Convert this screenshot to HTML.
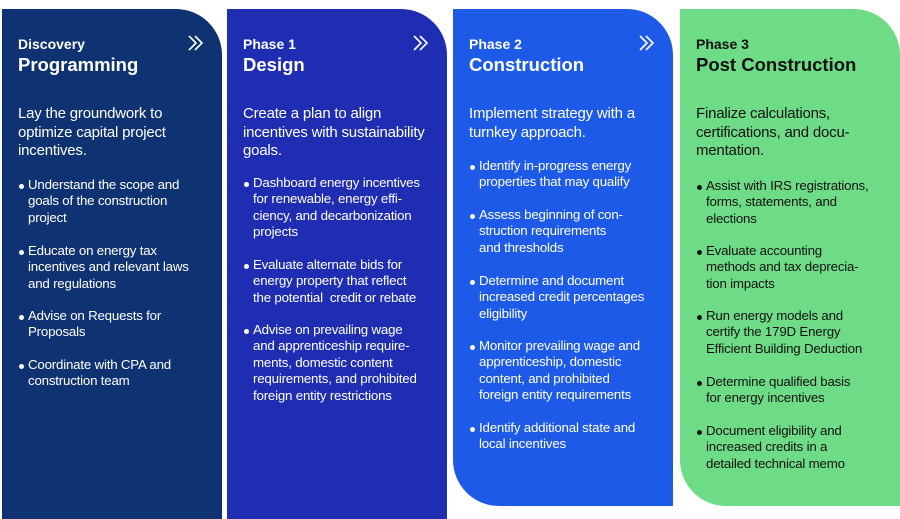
<!DOCTYPE html>
<html><head><meta charset="utf-8"><style>
*{margin:0;padding:0;box-sizing:border-box}
body{width:900px;height:507px;background:#fff;position:relative;overflow:hidden;font-family:"Liberation Sans",sans-serif}
.c{position:absolute;top:9px;width:220px;height:500px;border-radius:0 46px 0 0;color:#fff}
.p{position:absolute;left:16px;font-size:13.3px;line-height:16.4px;letter-spacing:-0.2px}
.b{position:absolute;left:16px;font-size:13.3px;line-height:16.4px;padding-left:10px;letter-spacing:-0.2px}
.b:before{content:"";position:absolute;left:1px;top:7px;width:5px;height:5px;border-radius:50%;background:currentColor}
.t1{position:absolute;left:16px;top:27px;font-size:14px;font-weight:bold}
.t2{position:absolute;left:16px;top:45px;font-size:18.5px;font-weight:bold}
.i{position:absolute;left:16px;top:96px;font-size:15px;line-height:18.5px;letter-spacing:-0.2px}
.ar{position:absolute;left:185px;top:25px}
</style></head><body>
<div class="c" style="left:2px;background:#0f3272;height:510px">
<div class="t1">Discovery</div><div class="t2">Programming</div>
<svg class="ar" width="18" height="18"><path d="M2 2l7 7-7 7M8 2l7 7-7 7" stroke="#fff" stroke-width="1.6" fill="none"/></svg>
<div class="i">Lay the groundwork to<br>optimize capital project<br>incentives.</div>
<div class="b" style="top:168px">Understand the scope and<br>goals of the construction<br>project</div>
<div class="b" style="top:234px">Educate on energy tax<br>incentives and relevant laws<br>and regulations</div>
<div class="b" style="top:299px">Advise on Requests for<br>Proposals</div>
<div class="b" style="top:348px">Coordinate with CPA and<br>construction team</div>
</div>
<div class="c" style="left:227px;background:#1f2db3;height:510px">
<div class="t1">Phase 1</div><div class="t2">Design</div>
<svg class="ar" width="18" height="18"><path d="M2 2l7 7-7 7M8 2l7 7-7 7" stroke="#fff" stroke-width="1.6" fill="none"/></svg>
<div class="i">Create a plan to align<br>incentives with sustainability<br>goals.</div>
<div class="b" style="top:166px">Dashboard energy incentives<br>for renewable, energy effi-<br>ciency, and decarbonization<br>projects</div>
<div class="b" style="top:248px">Evaluate alternate bids for<br>energy property that reflect<br>the potential &nbsp;credit or rebate</div>
<div class="b" style="top:313px">Advise on prevailing wage<br>and apprenticeship require-<br>ments, domestic content<br>requirements, and prohibited<br>foreign entity restrictions</div>
</div>
<div class="c" style="left:453px;background:#1e5ae8;height:497px;border-radius:0 46px 0 46px">
<div class="t1">Phase 2</div><div class="t2">Construction</div>
<svg class="ar" width="18" height="18"><path d="M2 2l7 7-7 7M8 2l7 7-7 7" stroke="#fff" stroke-width="1.6" fill="none"/></svg>
<div class="i">Implement strategy with a<br>turnkey approach.</div>
<div class="b" style="top:149px">Identify in-progress energy<br>properties that may qualify</div>
<div class="b" style="top:198px">Assess beginning of con-<br>struction requirements<br>and thresholds</div>
<div class="b" style="top:264px">Determine and document<br>increased credit percentages<br>eligibility</div>
<div class="b" style="top:329px">Monitor prevailing wage and<br>apprenticeship, domestic<br>content, and prohibited<br>foreign entity requirements</div>
<div class="b" style="top:411px">Identify additional state and<br>local incentives</div>
</div>
<div class="c" style="left:680px;background:#6edc86;color:#111;height:497px;border-radius:0 46px 0 46px">
<div class="t1">Phase 3</div><div class="t2">Post Construction</div>
<div class="i">Finalize calculations,<br>certifications, and docu-<br>mentation.</div>
<div class="b" style="top:169px">Assist with IRS registrations,<br>forms, statements, and<br>elections</div>
<div class="b" style="top:234px">Evaluate accounting<br>methods and tax deprecia-<br>tion impacts</div>
<div class="b" style="top:299px">Run energy models and<br>certify the 179D Energy<br>Efficient Building Deduction</div>
<div class="b" style="top:365px">Determine qualified basis<br>for energy incentives</div>
<div class="b" style="top:414px">Document eligibility and<br>increased credits in a<br>detailed technical memo</div>
</div>
</body></html>
